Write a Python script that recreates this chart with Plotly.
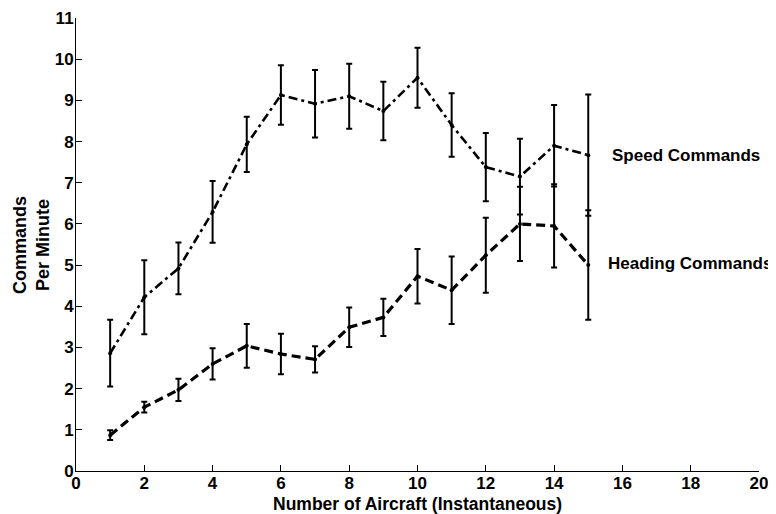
import plotly.graph_objects as go

# Data
n_aircraft = list(range(1, 16))
speed_mean = [2.86, 4.22, 4.92, 6.29, 7.93, 9.13, 8.92, 9.10, 8.74, 9.55, 8.40, 7.38, 7.15, 7.90, 7.67]
speed_err = [0.81, 0.90, 0.63, 0.75, 0.67, 0.72, 0.82, 0.79, 0.71, 0.73, 0.77, 0.83, 0.92, 0.99, 1.47]
heading_mean = [0.87, 1.55, 1.97, 2.60, 3.04, 2.84, 2.71, 3.49, 3.73, 4.73, 4.39, 5.24, 6.00, 5.95, 5.00]
heading_err = [0.12, 0.13, 0.27, 0.38, 0.53, 0.49, 0.32, 0.48, 0.45, 0.66, 0.82, 0.91, 0.90, 1.01, 1.33]

x_ticks = list(range(0, 21, 2))
y_ticks = list(range(0, 12))

FONT = "Liberation Sans, Arial, Helvetica, sans-serif"
TICK_FONT = "Liberation Sans Narrow, Arial Narrow, Liberation Sans, Arial, sans-serif"

fig = go.Figure()

# Speed commands: dash-dot line
fig.add_trace(go.Scatter(
    x=n_aircraft, y=speed_mean,
    mode="lines+markers",
    line=dict(color="black", width=2.6, dash="9px,4px,3px,4px"),
    marker=dict(color="black", size=4),
    error_y=dict(type="data", array=speed_err, visible=True,
                 color="black", thickness=2, width=3),
    showlegend=False,
))

# Heading commands: dashed line
fig.add_trace(go.Scatter(
    x=n_aircraft, y=heading_mean,
    mode="lines+markers",
    line=dict(color="black", width=3.2, dash="9px,5px"),
    marker=dict(color="black", size=4),
    error_y=dict(type="data", array=heading_err, visible=True,
                 color="black", thickness=2, width=3),
    showlegend=False,
))

# Series labels
fig.add_annotation(x=15.65, y=speed_mean[-1], xref="x", yref="y",
                   text="Speed Commands", showarrow=False,
                   xanchor="left", yanchor="middle",
                   font=dict(family=FONT, size=17, color="black", weight="bold"))
fig.add_annotation(x=15.51, y=5.05, xref="x", yref="y",
                   text="Heading Commands", showarrow=False,
                   xanchor="left", yanchor="middle",
                   font=dict(family=FONT, size=17, color="black", weight="bold"))

# Axis titles
fig.add_annotation(x=-0.0652, y=0.5, xref="paper", yref="paper",
                   text="Commands<br>Per Minute", showarrow=False,
                   textangle=-90, xanchor="center", yanchor="middle",
                   font=dict(family=FONT, size=18, color="black", weight="bold"))
fig.add_annotation(x=0.5, y=-0.073, xref="paper", yref="paper",
                   text="Number of Aircraft (Instantaneous)", showarrow=False,
                   xanchor="center", yanchor="middle",
                   font=dict(family=FONT, size=17.5, color="black", weight="bold"))

axis_common = dict(
    showline=True, linecolor="black", linewidth=1,
    ticks="inside", ticklen=6, tickcolor="black", tickwidth=1,
    showgrid=False, zeroline=False, mirror=False, automargin=False,
    tickfont=dict(family=TICK_FONT, size=17, color="black", weight="bold"),
)

fig.update_xaxes(range=[0, 20], tickvals=x_ticks, ticklabelstandoff=-3, **axis_common)
fig.update_yaxes(range=[0, 11], tickvals=y_ticks, ticklabelstandoff=-2, **axis_common)

# page body adds an 8px margin, so the figure is sized to fit the window
fig.update_layout(
    width=768, height=506,
    margin=dict(l=68, r=17, t=10, b=43),
    plot_bgcolor="white", paper_bgcolor="white",
)

fig.write_html("out.html")
